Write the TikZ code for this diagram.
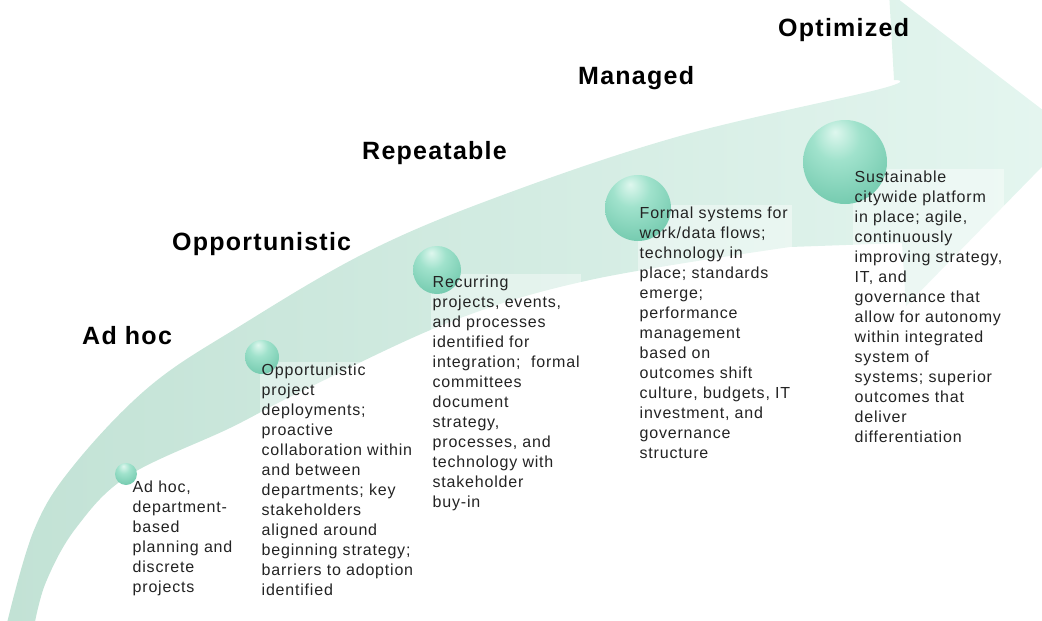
\documentclass[tikz,border=0pt]{standalone}
\usepackage{fontspec}
\setmainfont{Liberation Sans}
\newfontfamily\stagefont{Liberation Sans}[LetterSpace=5]
\usepackage{tikz}
\usetikzlibrary{positioning}
\pgfdeclarelayer{background}
\pgfsetlayers{background,main}

\definecolor{bandlow}{RGB}{194,226,213}
\definecolor{bandhigh}{RGB}{229,246,240}
\definecolor{bubtop}{RGB}{222,247,238}
\definecolor{bubmid}{RGB}{160,226,204}
\definecolor{bubbody}{RGB}{112,200,172}
\definecolor{bubedge}{RGB}{80,166,138}
\definecolor{bubrim}{RGB}{205,240,227}
\definecolor{bodytext}{RGB}{35,35,35}

\pgfdeclareradialshading{bubbleshade}{\pgfpoint{-6bp}{18bp}}{%
  color(0bp)=(bubtop); color(14bp)=(bubmid); color(38bp)=(bubbody);
  color(58bp)=(bubedge); color(66bp)=(bubrim); color(80bp)=(bubrim)}

\tikzset{
  stage/.style={font=\stagefont\bfseries\fontsize{25}{30}\selectfont, anchor=base west, inner sep=0pt},
  detail/.style={font=\stagefont\fontsize{16}{20}\selectfont, text=bodytext, align=left,
    anchor=north west, inner sep=1.5pt},
  bubble/.style={circle, inner sep=0pt, minimum size=#1, shading=bubbleshade},
}

\begin{document}
\begin{tikzpicture}[x=1pt, y=-1pt]
  \useasboundingbox (0,0) rectangle (1042,621);

  % curved arrow
  \begin{pgfonlayer}{background}
  \shade[left color=bandlow, right color=bandhigh]
    plot[smooth, tension=0.6] coordinates {(6,627) (34,530) (74,465) (150,386) (240,326)
      (367,252) (500,196) (680,136) (880,89) (894,80)}
    -- (889,-8) -- (1074,134) -- (906,306) -- (902,243)
    -- plot[smooth, tension=0.6] coordinates {(790,247) (590,280) (450,322) (300,392)
      (230,428) (128,476) (76,528) (46,582) (34,627)}
    -- cycle;
  \end{pgfonlayer}

  \node[bubble=22pt] (s1) at (126,474) {};
  \node[bubble=34pt] (s2) at (262,357) {};
  \node[bubble=48pt] (s3) at (437,270) {};
  \node[bubble=66pt] (s4) at (638,208) {};
  \node[bubble=84pt] (s5) at (845,162) {};

  \node[stage] (adhoc) at (82,344) {Ad hoc};
  \node[stage] (opport) at (172,250) {Opportunistic};
  \node[stage] (repeat) at (362,159) {Repeatable};
  \node[stage] (managed) at (578,84) {Managed};
  \node[stage] (optim) at (778,36) {Optimized};

  \node[detail] (t1) at (131,479) {Ad hoc,\\department-\\based\\planning and\\discrete\\projects};
  \node[detail] (t2) at (260,362) {Opportunistic\\project\\deployments;\\proactive\\collaboration within\\and between\\departments; key\\stakeholders\\aligned around\\beginning strategy;\\barriers to adoption\\identified};
  \node[detail] (t3) at (431,274) {Recurring\\projects, events,\\and processes\\identified for\\integration;~ formal\\committees\\document\\strategy,\\processes, and\\technology with\\stakeholder\\buy-in};
  \node[detail] (t4) at (638,205) {Formal systems for\\work/data flows;\\technology in\\place; standards\\emerge;\\performance\\management\\based on\\outcomes shift\\culture, budgets, IT\\investment, and\\governance\\structure};
  \node[detail] (t5) at (853,169) {Sustainable\\citywide platform\\in place; agile,\\continuously\\improving strategy,\\IT, and\\governance that\\allow for autonomy\\within integrated\\system of\\systems; superior\\outcomes that\\deliver\\differentiation};

  % pale boxes behind the texts
  \begin{pgfonlayer}{background}
  \foreach \i in {1,...,5}
    \fill[white, fill opacity=0.4] (t\i.north west) rectangle (t\i.south east);
  \end{pgfonlayer}
\end{tikzpicture}
\end{document}
